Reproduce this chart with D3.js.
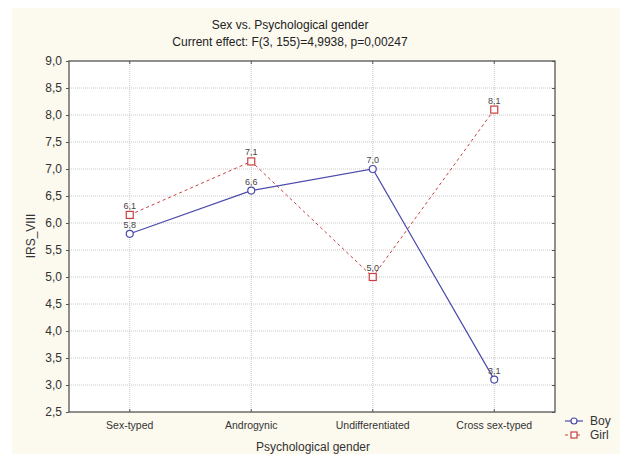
<!DOCTYPE html>
<html><head><meta charset="utf-8">
<script src="https://cdn.jsdelivr.net/npm/d3@7"></script>
<style>body{margin:0;background:#fff}svg{display:block}text{font-family:"Liberation Sans",Arial,sans-serif}</style>
</head><body><svg id="c" width="620" height="454"></svg>
<script>
const categories = ["Sex-typed","Androgynic","Undifferentiated","Cross sex-typed"];
const boyValues = [5.8, 6.6, 7.0, 3.1];
const girlValues = [6.15, 7.14, 5.0, 8.1];
const boyLabels = ["5,8","6,6","7,0","3,1"];
const girlLabels = ["6,1","7,1","5,0","8,1"];
const yTicks = [2.5,3,3.5,4,4.5,5,5.5,6,6.5,7,7.5,8,8.5,9];
const seriesNames = ["Boy","Girl"];

const svg = d3.select("#c");
svg.append("rect").attr("x",12).attr("y",8).attr("width",608).attr("height",446).attr("fill","#fcf9ef");

const L=69,R=555,T=61,B=412;
const x = d3.scaleBand().domain(categories).range([L,R]);
const cx = d => x(d)+x.bandwidth()/2;
const y = d3.scaleLinear().domain([2.5,9]).range([B,T]);
const fmt = v => d3.format(".1f")(v).replace(".",",");

svg.append("rect").attr("x",L).attr("y",T).attr("width",R-L).attr("height",B-T).attr("fill","#fff");

// grid
const g = svg.append("g");
g.selectAll("line.h").data(yTicks.slice(1,-1)).join("line")
  .attr("x1",L).attr("x2",R).attr("y1",d=>y(d)).attr("y2",d=>y(d))
  .attr("stroke","#c8c8c8").attr("stroke-dasharray","1,1");
g.selectAll("line.v").data(categories).join("line")
  .attr("x1",d=>cx(d)).attr("x2",d=>cx(d)).attr("y1",T).attr("y2",B)
  .attr("stroke","#c8c8c8").attr("stroke-dasharray","1,1");

// axes
const yAx = svg.append("g").attr("transform",`translate(${L},0)`)
  .call(d3.axisLeft(y).tickValues(yTicks).tickFormat(fmt).tickSize(3).tickPadding(4));
yAx.select(".domain").remove();
yAx.selectAll("line").attr("stroke","#555");
yAx.selectAll("text").attr("font-size",12).attr("fill","#333").attr("font-family","Liberation Sans, Arial");

const yAxR = svg.append("g").attr("transform",`translate(${R},0)`)
  .call(d3.axisLeft(y).tickValues(yTicks).tickFormat("").tickSize(3));
yAxR.select(".domain").remove();
yAxR.selectAll("line").attr("stroke","#555");

const xAx = svg.append("g").attr("transform",`translate(0,${B})`)
  .call(d3.axisTop(x).tickSize(3).tickFormat(""));
xAx.select(".domain").remove();
xAx.selectAll("line").attr("stroke","#555");
const xAxT = svg.append("g").attr("transform",`translate(0,${T})`)
  .call(d3.axisBottom(x).tickSize(3).tickFormat(""));
xAxT.select(".domain").remove();
xAxT.selectAll("line").attr("stroke","#555");

svg.selectAll("text.xl").data(categories).join("text")
  .attr("x",d=>cx(d)).attr("y",429).attr("text-anchor","middle")
  .attr("font-size",10.5).attr("fill","#333").text(d=>d);

svg.append("rect").attr("x",L).attr("y",T).attr("width",R-L).attr("height",B-T)
  .attr("fill","none").attr("stroke","#555").attr("stroke-width",1.3);

// titles
svg.append("text").attr("x",290).attr("y",29).attr("text-anchor","middle").attr("font-size",12).attr("fill","#222").text("Sex vs. Psychological gender");
svg.append("text").attr("x",290).attr("y",46).attr("text-anchor","middle").attr("font-size",12).attr("fill","#222").text("Current effect: F(3, 155)=4,9938, p=0,00247");
svg.append("text").attr("x",313).attr("y",451).attr("text-anchor","middle").attr("font-size",12).attr("fill","#333").text("Psychological gender");
svg.append("text").attr("transform","translate(35,236) rotate(-90)").attr("text-anchor","middle").attr("font-size",12).attr("fill","#333").text("IRS_VIII");

const boyColor="#4b4bab", girlColor="#c8403f";
const line = d3.line().x((d,i)=>cx(categories[i])).y(d=>y(d));

svg.append("path").datum(girlValues).attr("d",line).attr("fill","none")
  .attr("stroke",girlColor).attr("stroke-width",1).attr("stroke-dasharray","3,3");
svg.append("path").datum(boyValues).attr("d",line).attr("fill","none")
  .attr("stroke",boyColor).attr("stroke-width",1.2);

svg.selectAll("circle.b").data(boyValues).join("circle")
  .attr("cx",(d,i)=>cx(categories[i])).attr("cy",d=>y(d)).attr("r",3.5)
  .attr("fill","#fff").attr("stroke",boyColor).attr("stroke-width",1.2);
svg.selectAll("rect.g").data(girlValues).join("rect")
  .attr("x",(d,i)=>cx(categories[i])-3.5).attr("y",d=>y(d)-3.5).attr("width",7).attr("height",7)
  .attr("fill","#fff").attr("stroke",girlColor).attr("stroke-width",1.2);

svg.selectAll("text.bl").data(boyValues).join("text")
  .attr("x",(d,i)=>cx(categories[i])).attr("y",d=>y(d)-6).attr("text-anchor","middle")
  .attr("font-size",9).attr("fill","#444").text((d,i)=>boyLabels[i]);
svg.selectAll("text.gl").data(girlValues).join("text")
  .attr("x",(d,i)=>cx(categories[i])).attr("y",d=>y(d)-6).attr("text-anchor","middle")
  .attr("font-size",9).attr("fill","#444").text((d,i)=>girlLabels[i]);

// legend
const lg = svg.append("g");
lg.append("line").attr("x1",565).attr("x2",583).attr("y1",421).attr("y2",421).attr("stroke",boyColor).attr("stroke-width",1.2);
lg.append("circle").attr("cx",574).attr("cy",421).attr("r",3).attr("fill","#fff").attr("stroke",boyColor).attr("stroke-width",1.2);
lg.append("text").attr("x",590).attr("y",425).attr("font-size",12).attr("fill","#333").text(seriesNames[0]);
lg.append("line").attr("x1",565).attr("x2",583).attr("y1",435).attr("y2",435).attr("stroke",girlColor).attr("stroke-width",1).attr("stroke-dasharray","3,3");
lg.append("rect").attr("x",571).attr("y",432).attr("width",6).attr("height",6).attr("fill","#fff").attr("stroke",girlColor).attr("stroke-width",1.2);
lg.append("text").attr("x",590).attr("y",439).attr("font-size",12).attr("fill","#333").text(seriesNames[1]);
</script></body></html>
